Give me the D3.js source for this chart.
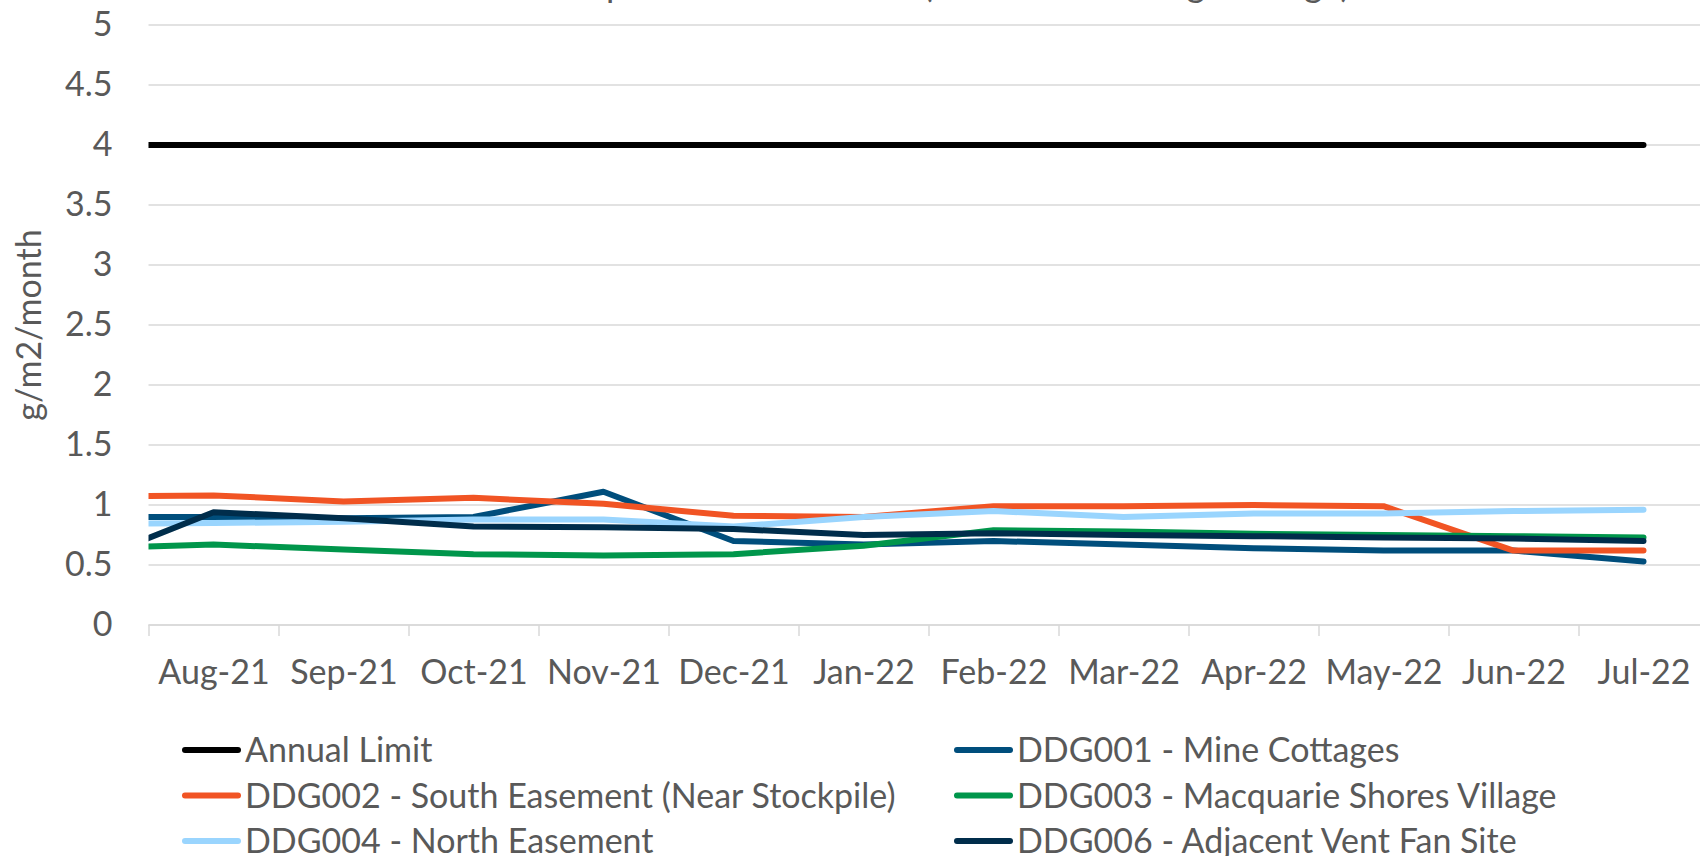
<!DOCTYPE html>
<html>
<head>
<meta charset="utf-8">
<script src="https://cdn.jsdelivr.net/npm/d3@7"></script>
<style>
  body { margin: 0; background: #fff; }
  svg { display: block; font-family: Lato, "Liberation Sans", sans-serif; }
</style>
</head>
<body>
<svg width="1700" height="856"></svg>
<script>
// months, Jul-21 sits left of the axis and only shows as the clipped start of each line
var months = ["Jul-21", "Aug-21", "Sep-21", "Oct-21", "Nov-21", "Dec-21", "Jan-22",
              "Feb-22", "Mar-22", "Apr-22", "May-22", "Jun-22", "Jul-22"];

var annualLimit = [4, 4, 4, 4, 4, 4, 4, 4, 4, 4, 4, 4, 4];
var ddg001 = [0.90, 0.90, 0.89, 0.90, 1.11, 0.70, 0.67, 0.70, 0.67, 0.64, 0.62, 0.62, 0.53];
var ddg002 = [1.07, 1.08, 1.03, 1.06, 1.01, 0.91, 0.90, 0.99, 0.99, 1.00, 0.99, 0.62, 0.62];
var ddg003 = [0.64, 0.67, 0.63, 0.59, 0.58, 0.59, 0.66, 0.79, 0.78, 0.76, 0.75, 0.74, 0.73];
var ddg004 = [0.84, 0.85, 0.86, 0.88, 0.88, 0.82, 0.90, 0.95, 0.90, 0.93, 0.93, 0.95, 0.96];
var ddg006 = [0.51, 0.94, 0.89, 0.82, 0.815, 0.80, 0.75, 0.765, 0.75, 0.74, 0.73, 0.72, 0.70];

var yTicks = [0, 0.5, 1, 1.5, 2, 2.5, 3, 3.5, 4, 4.5, 5];

var series = [
  {name: "Annual Limit", values: annualLimit, color: "#000000"},
  {name: "DDG001 - Mine Cottages", values: ddg001, color: "#004E7C"},
  {name: "DDG002 - South Easement (Near Stockpile)", values: ddg002, color: "#F15424"},
  {name: "DDG003 - Macquarie Shores Village", values: ddg003, color: "#00964B"},
  {name: "DDG004 - North Easement", values: ddg004, color: "#9AD5FE"},
  {name: "DDG006 - Adjacent Vent Fan Site", values: ddg006, color: "#002D4B"}
];

var svg = d3.select("svg"),
    plotLeft = 148.5,
    step = 130,
    plotTop = 25,
    plotBottom = 625,
    textColor = "#595959",
    fontSize = 34;

// linear scale over month index, Aug-21 (index 1) .. Jul-22 (index 12)
var x = d3.scaleLinear().domain([0.5, 12.5]).range([plotLeft, plotLeft + 12 * step]);
var y = d3.scaleLinear().domain([0, 5]).range([plotBottom, plotTop]);

// title, mostly off the top edge of the picture
svg.append("text")
    .attr("x", 955).attr("y", -3)
    .attr("text-anchor", "middle")
    .style("font-size", "36px")
    .style("fill", textColor)
    .text("Deposited Dust Levels (12 Month Rolling Average)");

// gridlines
svg.append("g").selectAll("line")
  .data(yTicks)
  .enter().append("line")
    .attr("x1", plotLeft).attr("x2", 1700)
    .attr("y1", function(d) { return y(d); })
    .attr("y2", function(d) { return y(d); })
    .style("stroke", "#D9D9D9")
    .style("stroke-width", 1.5);

// y axis labels
var yAxis = svg.append("g")
    .attr("transform", "translate(" + (plotLeft - 36) + ",0)")
    .call(d3.axisLeft(y).tickValues(yTicks).tickSize(0).tickFormat(d3.format("")));
yAxis.select(".domain").remove();
yAxis.selectAll("text")
    .style("font-size", fontSize + "px")
    .style("font-family", "Lato")
    .style("fill", textColor)
    .attr("x", 0);

svg.append("text")
    .attr("transform", "translate(41," + ((plotTop + plotBottom) / 2) + ") rotate(-90)")
    .attr("text-anchor", "middle")
    .style("font-size", fontSize + "px")
    .style("fill", textColor)
    .text("g/m2/month");

// x axis: tick marks at category boundaries, labels at centres
var tickPos = d3.range(0.5, 12.5, 1);
svg.append("g")
    .attr("transform", "translate(0," + plotBottom + ")")
    .call(d3.axisBottom(x).tickValues(tickPos).tickSize(11).tickFormat(""))
    .call(function(g) {
      g.select(".domain").attr("d", "M" + plotLeft + ",0H1700").style("stroke", "#D9D9D9").style("stroke-width", 1.5);
      g.selectAll(".tick line").style("stroke", "#D9D9D9").style("stroke-width", 1.5);
    });

var xLabels = svg.append("g")
    .attr("transform", "translate(0," + plotBottom + ")")
    .call(d3.axisBottom(x).tickValues(d3.range(1, 13)).tickSize(0).tickPadding(35)
      .tickFormat(function(i) { return months[i]; }));
xLabels.select(".domain").remove();
xLabels.selectAll("text")
    .style("font-size", fontSize + "px")
    .style("font-family", "Lato")
    .style("fill", textColor);

// lines, clipped to the plot area
svg.append("clipPath").attr("id", "plot")
  .append("rect")
    .attr("x", plotLeft).attr("y", 0)
    .attr("width", 12 * step).attr("height", 856);

var line = d3.line()
    .x(function(d, i) { return x(i); })
    .y(function(d) { return y(d); });

svg.append("g").attr("clip-path", "url(#plot)")
  .selectAll("path")
  .data(series)
  .enter().append("path")
    .attr("d", function(d) { return line(d.values); })
    .style("fill", "none")
    .style("stroke", function(d) { return d.color; })
    .style("stroke-width", 6)
    .style("stroke-linecap", "round")
    .style("stroke-linejoin", "round");

// legend
var legend = svg.append("g").selectAll("g")
  .data(series)
  .enter().append("g")
    .attr("transform", function(d, i) {
      return "translate(" + (i % 2 ? 954 : 182) + "," + (750 + Math.floor(i / 2) * 45.5) + ")";
    });

legend.append("line")
    .attr("x1", 3).attr("x2", 56)
    .style("stroke", function(d) { return d.color; })
    .style("stroke-width", 6)
    .style("stroke-linecap", "round");

legend.append("text")
    .attr("x", 63)
    .attr("dy", "0.36em")
    .style("font-size", fontSize + "px")
    .style("fill", textColor)
    .text(function(d) { return d.name; });
</script>
</body>
</html>
